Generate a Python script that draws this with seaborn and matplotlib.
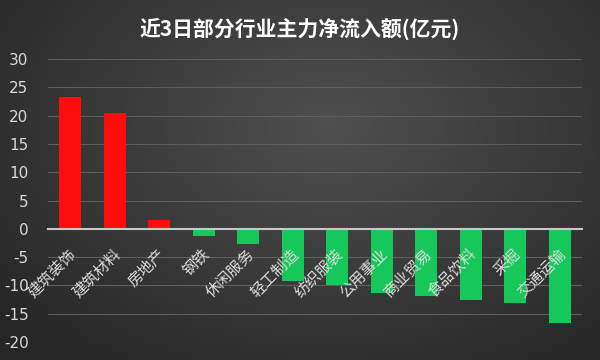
import numpy as np
import matplotlib
matplotlib.use("Agg")
import matplotlib.pyplot as plt
import seaborn as sns

industries = ["建筑装饰", "建筑材料", "房地产", "钢铁", "休闲服务", "轻工制造",
              "纺织服装", "公用事业", "商业贸易", "食品饮料", "采掘", "交通运输"]
net_inflow = [23.3, 20.5, 1.5, -1.2, -2.6, -9.3, -9.9, -11.3, -11.8, -12.5, -13.1, -16.6]
yticks = [-20, -15, -10, -5, 0, 5, 10, 15, 20, 25, 30]

sns.set_theme(style="dark")
plt.rcParams['font.family'] = ['Noto Sans CJK SC', 'DejaVu Sans']

fig = plt.figure(figsize=(6, 3.6), dpi=100)

# dark radial gradient background
bg = fig.add_axes([0, 0, 1, 1], zorder=-10)
gx, gy = np.meshgrid(np.linspace(0, 1, 300), np.linspace(0, 1, 180))
r = np.sqrt(((gx - 0.55) / 0.75) ** 2 + ((gy - 0.35) / 0.9) ** 2)
shade = np.clip(0.31 - 0.17 * r, 0.15, 0.31)
bg.imshow(np.dstack([shade] * 3), aspect="auto", extent=[0, 1, 0, 1])
bg.axis("off")

ax = fig.add_axes([0.08, 0.05, 0.89, 0.786])
ax.patch.set_alpha(0)

sign = ["pos" if v >= 0 else "neg" for v in net_inflow]
sns.barplot(x=industries, y=net_inflow, hue=sign, dodge=False, legend=False,
            palette={"pos": "#ff0d0d", "neg": "#16c85a"}, width=0.5,
            saturation=1, linewidth=0, ax=ax, zorder=3)

ax.set_ylim(-20, 30)
ax.set_xlim(-0.5, 11.5)
ax.set_yticks(yticks)
ax.set_yticklabels([str(t) for t in yticks], color="#d9d9d9", fontsize=11,
                   family=["DejaVu Sans"])
ax.tick_params(axis="y", length=0, pad=14)
ax.yaxis.grid(True, color="#5e5e5e", linewidth=0.8, zorder=0)
ax.xaxis.grid(False)
for s in ["top", "right", "left"]:
    ax.spines[s].set_visible(False)
ax.spines["bottom"].set_position(("data", 0))
ax.spines["bottom"].set_color("#c8c8c8")
ax.spines["bottom"].set_linewidth(1.5)
ax.spines["bottom"].set_zorder(4)
ax.set_xticks(range(len(industries)))
ax.set_xticklabels([])
ax.tick_params(axis="x", length=0)
ax.set_xlabel("")
ax.set_ylabel("")

# category labels drawn over the bars, hanging from the zero line
for i, name in enumerate(industries):
    ax.annotate(name, xy=(i, 0), xytext=(-2, -12), textcoords="offset points",
                rotation=45, ha="right", va="top", rotation_mode="anchor",
                color="#dcdcdc", fontsize=11, zorder=6)

fig.text(0.5, 0.92, "近3日部分行业主力净流入额(亿元)", ha="center", va="center",
         color="white", fontsize=15, fontweight="bold")

fig.savefig("out.png", dpi=100)
